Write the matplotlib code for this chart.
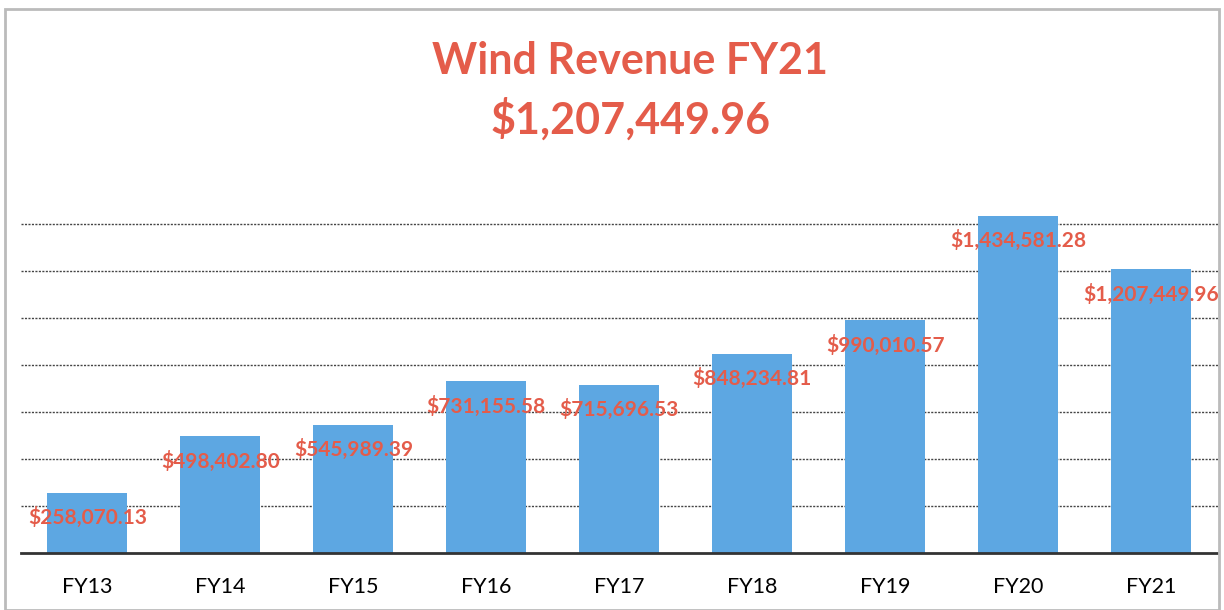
import numpy as np
import matplotlib.pyplot as plt

# Wind revenue by fiscal year
years = ['FY13', 'FY14', 'FY15', 'FY16', 'FY17', 'FY18', 'FY19', 'FY20', 'FY21']
revenue = [258070.13, 498402.80, 545989.39, 731155.58, 715696.53,
           848234.81, 990010.57, 1434581.28, 1207449.96]

red = '#E45C4A'
blue = '#5DA7E2'

plt.rcParams['font.family'] = ['Lato', 'DejaVu Sans']

fig = plt.figure(figsize=(12.24, 6.1), dpi=100, facecolor='white')
ax = fig.add_axes([0.017, 0.093, 0.978, 0.617])

x = np.arange(len(years))
ax.bar(x, revenue, width=0.6, color=blue, zorder=2)

for xi, v in zip(x, revenue):
    ax.annotate(f'${v:,.2f}', (xi, v), xytext=(0, -18), textcoords='offset points',
                ha='center', va='center', color=red, fontsize=15, fontweight='bold',
                zorder=3)

ax.set_xlim(-0.5, len(years) - 0.5)
ax.set_ylim(0, 1600000)
ax.set_yticks(np.arange(200000, 1400001, 200000))
ax.yaxis.grid(True, color='#444444', linestyle=(0, (1.5, 1)), linewidth=1.0, zorder=1)
ax.set_yticklabels([])
ax.tick_params(axis='y', length=0)
ax.tick_params(axis='x', length=0, labelsize=15.5, pad=17)
ax.set_xticks(x)
ax.set_xticklabels(years)

for s in ['top', 'right', 'left']:
    ax.spines[s].set_visible(False)
ax.spines['bottom'].set_color('#333333')
ax.spines['bottom'].set_linewidth(2)

fig.text(0.515, 0.9, 'Wind Revenue FY21', ha='center', va='center',
         color=red, fontsize=31, fontweight='bold')
fig.text(0.515, 0.805, '$1,207,449.96', ha='center', va='center',
         color=red, fontsize=31, fontweight='bold')

# scanned page border
fig.patches.append(plt.Rectangle((0.004, 0.0), 0.992, 0.985, transform=fig.transFigure,
                                 fill=False, edgecolor='#BBBBBB', linewidth=2))

fig.savefig('out.png', dpi=100, facecolor='white')
